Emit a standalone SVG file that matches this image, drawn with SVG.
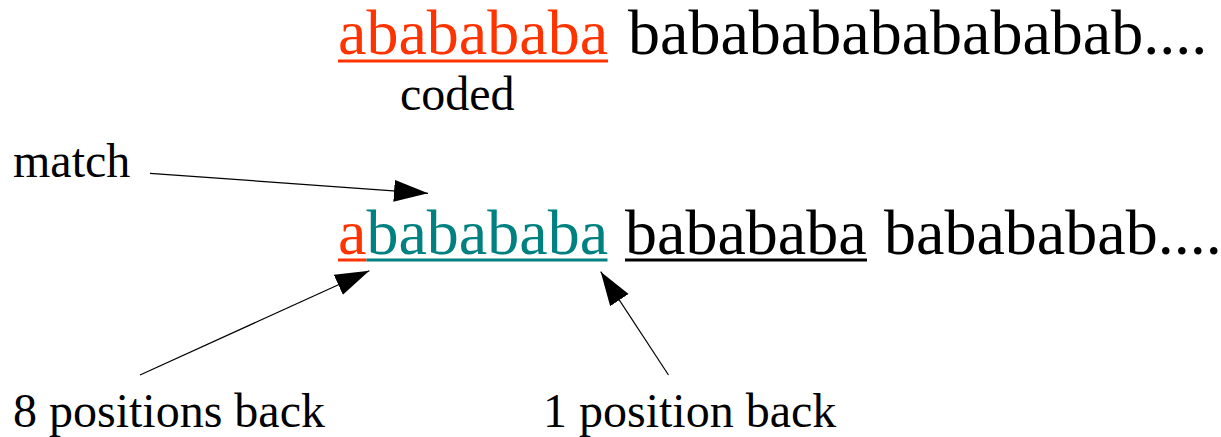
<svg xmlns="http://www.w3.org/2000/svg" width="1221" height="437" viewBox="0 0 1221 437">
  <style>
    .t { font-family: "Liberation Serif", "Times New Roman", serif; }
    .big { font-size: 64px; }
    .lbl { font-size: 48px; fill: #000; }
    .red { fill: #ff3300; }
    .teal { fill: #008080; }
    .blk { fill: #000; }
    .arrow { stroke: #000; stroke-width: 1.2; fill: none; marker-end: url(#head); }
  </style>
  <defs>
    <marker id="head" markerUnits="userSpaceOnUse" markerWidth="36" markerHeight="24" refX="34" refY="11" orient="auto">
      <path d="M0,0 L34,11 L0,22 Z" fill="#000"/>
    </marker>
  </defs>

  <rect width="1221" height="437" fill="#fff"/>

  <!-- upper string: already coded part and the rest -->
  <g id="coded-string">
    <text class="t big red" x="338" y="54">ababababa</text>
    <rect x="338" y="59.5" width="270" height="3" class="red"/>
    <text class="t big blk" x="628" y="54">babababababababab....</text>
  </g>

  <g id="coded-label">
    <text class="t lbl" x="400" y="110">coded</text>
  </g>

  <!-- lower string: match start, matched run, copy target -->
  <g id="match-string">
    <text class="t big" x="338" y="253.5"><tspan class="red">a</tspan><tspan class="teal">babababa</tspan></text>
    <rect x="338" y="258.5" width="28.5" height="3" class="red"/>
    <rect x="366.5" y="258.5" width="241" height="3" class="teal"/>
    <text class="t big blk" x="625" y="253.5">babababa</text>
    <rect x="625" y="258.5" width="242" height="3" class="blk"/>
    <text class="t big blk" x="884" y="253.5">babababab....</text>
  </g>

  <g id="match-label">
    <text class="t lbl" x="13" y="177">match</text>
  </g>
  <g id="label-8-back">
    <text class="t lbl" x="13" y="427">8 positions back</text>
  </g>
  <g id="label-1-back">
    <text class="t lbl" x="543" y="427">1 position back</text>
  </g>

  <g id="connectors">
    <line class="arrow" x1="150" y1="173.3" x2="428" y2="193.3"/>
    <line class="arrow" x1="140" y1="375" x2="369.3" y2="270.7"/>
    <line class="arrow" x1="668.5" y1="375" x2="600.7" y2="271.7"/>
  </g>
</svg>
